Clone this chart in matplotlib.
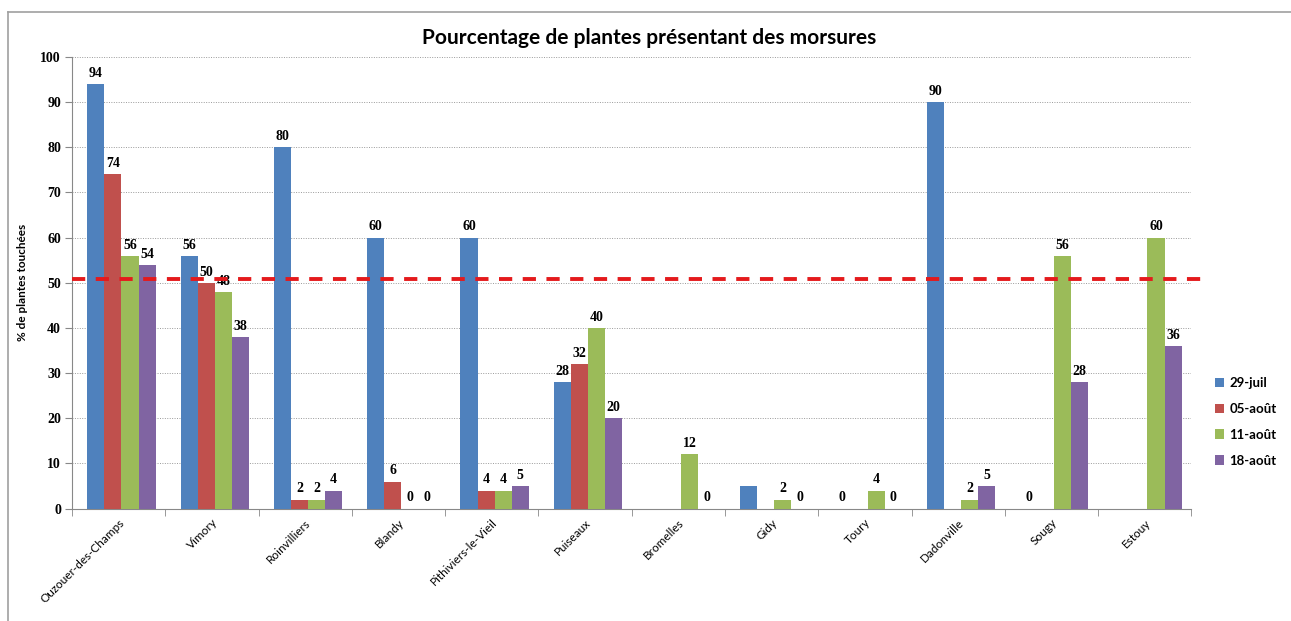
import numpy as np
import matplotlib
matplotlib.use("Agg")
import matplotlib.pyplot as plt
from matplotlib.lines import Line2D
from matplotlib.patches import Patch

# --- data ---------------------------------------------------------------------
communes = ["Ouzouer-des-Champs", "Vimory", "Roinvilliers", "Blandy",
            "Pithiviers-le-Vieil", "Puiseaux", "Bromelles", "Gidy", "Toury",
            "Dadonville", "Sougy", "Estouy"]
dates = ["29-juil", "05-août", "11-août", "18-août"]
nan = np.nan
juil_29 = [94, 56, 80, 60, 60, 28, nan, 5, 0, 90, 0, nan]
aout_05 = [74, 50, 2, 6, 4, 32, nan, nan, nan, nan, nan, nan]
aout_11 = [56, 48, 2, 0, 4, 40, 12, 2, 4, 2, 56, 60]
aout_18 = [54, 38, 4, 0, 5, 20, 0, 0, 0, 5, 28, 36]
series = [juil_29, aout_05, aout_11, aout_18]
threshold = 50.8
# bars drawn without a value label in the original
no_label = [("Gidy", "29-juil")]

colors = ["#4F81BD", "#C0504D", "#9BBB59", "#8064A2"]

fig = plt.figure(figsize=(12.91, 6.21), dpi=100)
ax = fig.add_axes([0.0558, 0.181, 0.867, 0.7272])

# outer chart frame
fig.add_artist(Line2D([0.0062, 0.0062], [0.0, 0.981], color="#a0a0a0", lw=1.2))
fig.add_artist(Line2D([0.0062, 1.0], [0.981, 0.981], color="#a0a0a0", lw=1.2))

x = np.arange(len(communes))
w = 0.183
for j, (vals, c, d) in enumerate(zip(series, colors, dates)):
    pos = x + (j - 1.5) * w + 0.03
    v = np.array(vals, dtype=float)
    ax.bar(pos, v, width=w, color=c, zorder=3, label=d)
    for xi, vi, name in zip(pos, v, communes):
        if np.isnan(vi) or (name, d) in no_label:
            continue
        ax.annotate(f"{vi:g}", (xi, vi), xytext=(0, 3), textcoords="offset points",
                    ha="center", va="bottom", fontsize=10, fontweight="bold",
                    family="Liberation Serif", zorder=4)

ax.set_xlim(-0.5, len(communes) - 0.5)
ax.set_ylim(0, 100)
ax.set_yticks(np.arange(0, 101, 10))
ax.set_yticklabels([str(t) for t in range(0, 101, 10)], fontsize=10,
                   fontweight="bold", family="Liberation Serif")
ax.grid(axis="y", linestyle=(0, (1, 1.5)), color="#9a9a9a", lw=0.7, zorder=0)

ax.set_xticks(x)
ax.set_xticklabels(communes, rotation=45, ha="right", rotation_mode="anchor",
                   fontsize=8.5, family="Lato")
ax.tick_params(axis="x", length=0, pad=6)
ax.set_xticks(np.arange(-0.5, len(communes), 1), minor=True)
ax.tick_params(axis="x", which="minor", length=5, color="#888888")
ax.tick_params(axis="y", length=5, color="#888888", pad=3)

for s in ["top", "right"]:
    ax.spines[s].set_visible(False)
for s in ["left", "bottom"]:
    ax.spines[s].set_color("#888888")

# threshold line, running a little past the plot area
ax.plot([0, 1.012], [threshold, threshold], transform=ax.get_yaxis_transform(),
        color="#E41A1C", lw=2.8, dashes=(3.4, 2.7), clip_on=False, zorder=5)

ax.set_ylabel("% de plantes touchées", fontsize=8.5, fontweight="bold", family="Lato",
              labelpad=9)
fig.text(0.503, 0.939, "Pourcentage de plantes présentant des morsures",
         ha="center", va="center", fontsize=15, fontweight="bold", family="Lato")

handles = [Patch(facecolor=c, label=d) for c, d in zip(colors, dates)]
fig.legend(handles=handles, loc="upper left", bbox_to_anchor=(0.932, 0.412),
           frameon=False, prop={"family": "Lato", "weight": "bold", "size": 9.5},
           handlelength=0.7, handleheight=0.7, handletextpad=0.4, labelspacing=1.05)

fig.savefig("out.png", dpi=100)
